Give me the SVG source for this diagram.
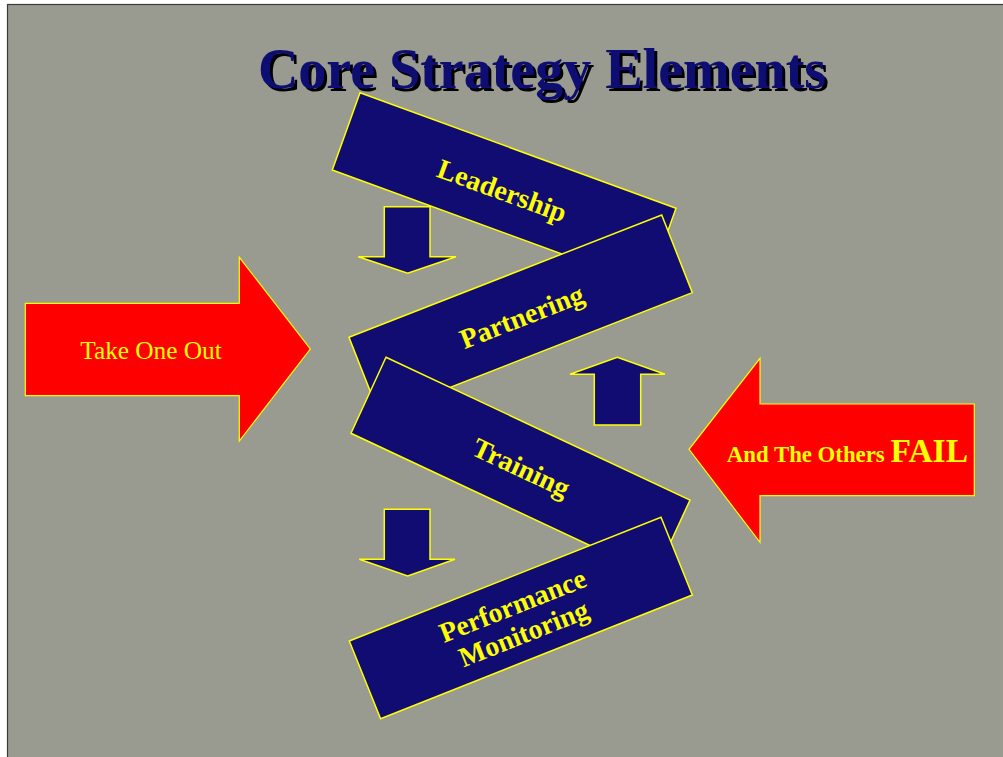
<svg xmlns="http://www.w3.org/2000/svg" width="1003" height="757" viewBox="0 0 1003 757">
<defs>
<filter id="shadow" x="-5%" y="-20%" width="110%" height="150%">
<feOffset in="SourceAlpha" dx="3" dy="3" result="off"/>
<feFlood flood-color="#000000"/>
<feComposite in2="off" operator="in" result="sh"/>
<feMerge><feMergeNode in="sh"/><feMergeNode in="SourceGraphic"/></feMerge>
</filter>
</defs>
<style>
.bg{fill:#999B90;stroke:#3a3a3a;stroke-width:1.2}
.title{font-family:"Liberation Serif",serif;font-weight:bold;font-size:56px;text-anchor:middle;fill:#100C72}
.box{fill:#100C72;stroke:#FFFF00;stroke-width:1.5;stroke-linejoin:miter}
.small{fill:#100C72;stroke:#FFFF00;stroke-width:1.5}
.red{fill:#FF0000;stroke:#FFFF00;stroke-width:1.2}
.lbl{font-family:"Liberation Serif",serif;font-weight:bold;font-size:28px;fill:#FFFF00;text-anchor:middle}
.rlbl{font-family:"Liberation Serif",serif;fill:#FFFF00}
</style>
<rect x="0" y="0" width="1003" height="757" fill="#ffffff"/>
<rect class="bg" x="7.5" y="4.5" width="1000" height="760"/>
<g id="title">
<text class="title" x="542" y="88" filter="url(#shadow)">Core Strategy Elements</text>
</g>
<g id="take-one-out">
<polygon class="red" points="25.3,303.3 239.3,303.3 239.3,257.3 310.3,349 239.3,441 239.3,395.7 25.3,395.7"/>
<text class="rlbl" x="151" y="359" font-size="25.3" text-anchor="middle">Take One Out</text>
</g>
<g id="others-fail">
<polygon class="red" points="974.3,404 760,404 760,358.3 689,449.3 760,542.3 760,495.7 974.3,495.7"/>
<text class="rlbl" x="968" y="462" text-anchor="end" font-weight="bold"><tspan font-size="22.8">And The Others </tspan><tspan font-size="33.5">FAIL</tspan></text>
</g>
<g id="connectors">
<polygon class="small" points="384.3,206.7 430,206.7 430,256.7 456,256.7 407.7,273.3 358.3,256.7 384.3,256.7"/>
<polygon class="small" points="594.3,425 640.7,425 640.7,374.3 665,374.3 617.3,357.3 570,374.3 594.3,374.3"/>
<polygon class="small" points="384.3,509.3 430,509.3 430,559.3 455,559.3 407.7,576 359.3,559.3 384.3,559.3"/>
</g>
<g id="leadership">
<polygon class="box" points="360,92.7 676,208.3 648.3,285.6 332.3,170"/>
<text class="lbl" transform="translate(502,191) rotate(20.1)" x="0" y="9">Leadership</text>
</g>
<g id="partnering">
<polygon class="box" points="349,337.3 661.7,215 692.3,292.7 379.6,415"/>
<text class="lbl" transform="translate(522,317) rotate(-21.4)" x="0" y="9">Partnering</text>
</g>
<g id="training">
<polygon class="box" points="386,357.3 690,500 655,576 351,433.3"/>
<text class="lbl" transform="translate(521,468) rotate(25.1)" x="0" y="9">Training</text>
</g>
<g id="performance-monitoring">
<polygon class="box" points="349.3,641 661,517.3 692.3,595 380.6,718.7"/>
<text class="lbl" transform="translate(518,619) rotate(-21.6)"><tspan x="0" y="-5">Performance</tspan><tspan x="0" y="25">Monitoring</tspan></text>
</g>
</svg>
